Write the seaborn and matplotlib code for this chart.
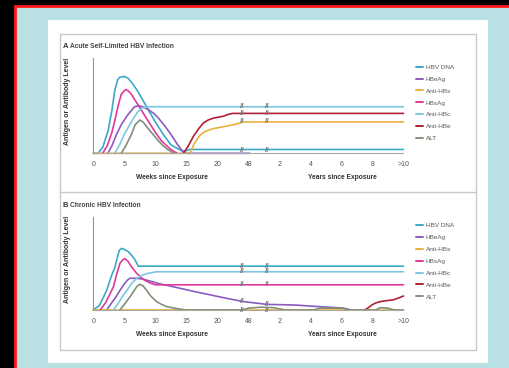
import matplotlib
matplotlib.use("Agg")
import matplotlib.pyplot as plt
from matplotlib.patches import Rectangle
from matplotlib.lines import Line2D
from matplotlib.ticker import MultipleLocator
import pandas as pd
import seaborn as sns

# x values are positions on the broken time axis: ticks are evenly spaced
# 0,5,10,15,20 weeks | 48 weeks | 2,4,6,8,>10 years
TICK_LABELS = ["0", "5", "10", "15", "20", "48", "2", "4", "6", "8", ">10"]
MARKERS = ["HBV DNA", "HBeAg", "Anti-HBs", "HBsAg", "Anti-HBc", "Anti-HBe", "ALT"]
COLORS = ["#3aaac9", "#8a5cc0", "#eab040", "#e0389c", "#7cc6e2", "#b02035", "#7f8f78"]

# panel A: acute self-limited infection, (axis position, relative level)
acute_hbv_dna = [(0, 0), (0.15, 0.0), (0.3, 0.06), (0.47, 0.23), (0.6, 0.45), (0.69, 0.66),
                 (0.78, 0.77), (0.85, 0.80), (1.0, 0.81), (1.12, 0.79), (1.25, 0.74),
                 (1.44, 0.65), (1.7, 0.50), (1.98, 0.34), (2.25, 0.20), (2.5, 0.09),
                 (2.77, 0.04), (2.93, 0.02), (3.1, 0.04), (10, 0.04)]
acute_hbeag = [(0.47, 0), (0.6, 0.08), (0.75, 0.2), (0.9, 0.3), (1.1, 0.4), (1.33, 0.49),
               (1.44, 0.5), (1.6, 0.49), (1.77, 0.46), (1.95, 0.42), (2.1, 0.37),
               (2.3, 0.29), (2.5, 0.2), (2.7, 0.1), (2.88, 0.02), (3.0, 0.0), (5.05, 0.0)]
acute_anti_hbs = [(0, 0), (3.12, 0), (3.25, 0.1), (3.44, 0.19), (3.6, 0.23), (3.87, 0.26),
                  (4.2, 0.28), (4.5, 0.3), (4.7, 0.315), (4.84, 0.33), (10, 0.33)]
acute_hbsag = [(0.3, 0), (0.45, 0.08), (0.6, 0.22), (0.69, 0.34), (0.8, 0.5), (0.9, 0.62),
               (1.0, 0.66), (1.06, 0.67), (1.15, 0.65), (1.23, 0.62), (1.5, 0.48),
               (1.77, 0.34), (2.0, 0.22), (2.2, 0.13), (2.5, 0.04), (2.7, 0.0)]
acute_anti_hbc = [(0.69, 0), (0.85, 0.09), (1.0, 0.2), (1.12, 0.27), (1.3, 0.37),
                  (1.44, 0.44), (1.6, 0.48), (1.77, 0.49), (10, 0.49)]
acute_anti_hbe = [(2.9, 0), (3.05, 0.07), (3.23, 0.18), (3.4, 0.26), (3.55, 0.32),
                  (3.7, 0.35), (3.87, 0.37), (4.19, 0.39), (4.35, 0.41), (4.5, 0.42), (10, 0.42)]
acute_alt = [(0.9, 0), (1.05, 0.08), (1.23, 0.2), (1.35, 0.3), (1.5, 0.35), (1.6, 0.33),
             (1.77, 0.26), (1.95, 0.19), (2.1, 0.13), (2.25, 0.08), (2.4, 0.04), (2.6, 0.0)]

# panel B: chronic infection
chronic_hbv_dna = [(0, 0), (0.2, 0.05), (0.43, 0.21), (0.6, 0.38), (0.7, 0.46), (0.78, 0.57),
                   (0.84, 0.64), (0.91, 0.66), (1.0, 0.65), (1.13, 0.625), (1.25, 0.58),
                   (1.34, 0.54), (1.45, 0.47), (10, 0.47)]
chronic_hbeag = [(0.43, 0), (0.6, 0.08), (0.75, 0.15), (0.86, 0.21), (1.0, 0.28), (1.1, 0.32),
                 (1.18, 0.34), (1.4, 0.34), (1.61, 0.33), (2.15, 0.28), (2.7, 0.24),
                 (3.23, 0.2), (3.8, 0.16), (4.3, 0.125), (4.84, 0.09), (5.6, 0.06),
                 (6.45, 0.054), (7.3, 0.036), (8.06, 0.02), (8.3, 0.0)]
chronic_anti_hbs = [(0, 0), (10, 0)]
chronic_hbsag = [(0.22, 0), (0.4, 0.08), (0.55, 0.18), (0.65, 0.25), (0.75, 0.38), (0.86, 0.5),
                 (0.95, 0.54), (1.02, 0.55), (1.12, 0.52), (1.24, 0.46), (1.38, 0.4),
                 (1.5, 0.36), (1.65, 0.32), (1.83, 0.29), (2.0, 0.27), (10, 0.27)]
chronic_anti_hbc = [(0.65, 0), (0.8, 0.07), (0.95, 0.15), (1.08, 0.21), (1.25, 0.29),
                    (1.4, 0.34), (1.55, 0.37), (1.72, 0.39), (2.04, 0.41), (10, 0.41)]
chronic_anti_hbe = [(8.75, 0), (8.85, 0.02), (8.98, 0.054), (9.1, 0.075), (9.25, 0.09),
                    (9.45, 0.1), (9.68, 0.11), (9.85, 0.13), (10, 0.15)]
chronic_alt = [(0.86, 0), (1.0, 0.06), (1.18, 0.14), (1.3, 0.2), (1.4, 0.25), (1.5, 0.275),
               (1.6, 0.26), (1.72, 0.21), (1.85, 0.15), (2.04, 0.09), (2.2, 0.06),
               (2.37, 0.036), (2.6, 0.02), (2.8, 0.01), (3.0, 0.0), (4.8, 0.0), (5.0, 0.02),
               (5.4, 0.03), (5.8, 0.025), (6.2, 0.0), (7.1, 0.0), (7.3, 0.02), (8.0, 0.02),
               (8.3, 0.0), (9.1, 0.0), (9.25, 0.025), (9.5, 0.02), (9.7, 0.0), (10, 0.0)]

ACUTE = [acute_hbv_dna, acute_hbeag, acute_anti_hbs, acute_hbsag,
         acute_anti_hbc, acute_anti_hbe, acute_alt]
CHRONIC = [chronic_hbv_dna, chronic_hbeag, chronic_anti_hbs, chronic_hbsag,
           chronic_anti_hbc, chronic_anti_hbe, chronic_alt]

# (axis position, level) of the "//" axis-break marks on the lines
ACUTE_BREAKS = [(4.8, 0.49), (4.8, 0.42), (4.8, 0.33), (4.8, 0.025),
                (5.6, 0.49), (5.6, 0.42), (5.6, 0.33), (5.6, 0.025)]
CHRONIC_BREAKS = [(4.8, 0.47), (4.8, 0.41), (4.8, 0.27), (4.8, 0.09), (4.8, 0.0),
                  (5.6, 0.47), (5.6, 0.41), (5.6, 0.27), (5.6, 0.06), (5.6, 0.0)]

W, H = 510, 368


def fx(x):
    return x / W


def fy(y):
    return 1 - y / H


def rect(fig, x0, y0, x1, y1, **kw):
    fig.add_artist(Rectangle((fx(x0), fy(y1)), (x1 - x0) / W, (y1 - y0) / H,
                             transform=fig.transFigure, zorder=-10, **kw))


def to_frame(series):
    rows = []
    for name, pts in zip(MARKERS, series):
        for u, v in pts:
            rows.append({"pos": u, "level": v, "marker": name})
    return pd.DataFrame(rows)


def draw_panel(fig, top, bottom, series, breaks, letter, title):
    ax = fig.add_axes([fx(93.3), fy(bottom), (403.5 - 93.3) / W, (bottom - top) / H])
    ax.set_facecolor("none")
    sns.lineplot(data=to_frame(series), x="pos", y="level", hue="marker",
                 hue_order=MARKERS, palette=COLORS, sort=False, estimator=None,
                 linewidth=1.2, ax=ax, legend=False)
    for ln in ax.lines:
        ln.set_clip_on(False)
    ax.set_xlim(0, 10)
    ax.set_ylim(0, 1)
    ax.set_xlabel("")
    ax.set_ylabel("")
    ax.set_yticks([])
    ax.set_xticks(range(11))
    ax.set_xticklabels(TICK_LABELS)
    ax.xaxis.set_minor_locator(MultipleLocator(0.2))
    ax.tick_params(axis="x", which="major", length=2.5, width=0.6, labelsize=5,
                   pad=3, colors="#9a9a90", labelcolor="#555555")
    ax.tick_params(axis="x", which="minor", length=1.5, width=0.5, colors="#9a9a90")
    for side in ["top", "right"]:
        ax.spines[side].set_visible(False)
    ax.spines["left"].set_color("#8c9a8c")
    ax.spines["bottom"].set_color("#a9a9a0")
    ax.spines["left"].set_linewidth(0.8)
    ax.spines["bottom"].set_linewidth(0.8)

    # axis-break marks
    for u, lv in breaks:
        ax.text(u, lv, "//", ha="center", va="center", fontsize=6,
                fontweight="bold", color="#7a7a7a", zorder=5, clip_on=False)

    handles = [Line2D([], [], color=c, lw=1.4) for c in COLORS]
    ax.legend(handles, MARKERS, loc="upper left", bbox_to_anchor=(fx(413), fy(top + 3)),
              bbox_transform=fig.transFigure, frameon=False, fontsize=4.6,
              handlelength=1.0, handletextpad=0.5, labelspacing=1.0, borderpad=0,
              labelcolor="#5a5a5a")

    fig.text(fx(63), fy(top - 11.5), letter, fontsize=5.5, fontweight="bold",
             va="center", color="#333333")
    fig.text(fx(70), fy(top - 11.5), title, fontsize=4.8, fontweight="bold",
             va="center", color="#444444")
    fig.text(fx(68), fy((top + bottom) / 2 - 4), "Antigen or Antibody Level", rotation=90,
             fontsize=5, fontweight="bold", ha="center", va="center", color="#333333")
    fig.text(fx(172), fy(bottom + 24), "Weeks since Exposure", fontsize=4.8,
             fontweight="bold", ha="center", va="center", color="#333333")
    fig.text(fx(342), fy(bottom + 24), "Years since Exposure", fontsize=4.8,
             fontweight="bold", ha="center", va="center", color="#333333")
    return ax


sns.set_style("white")
plt.rcParams["font.family"] = ["Liberation Sans", "DejaVu Sans"]

fig = plt.figure(figsize=(5.1, 3.68), dpi=100, facecolor="black")

# screenshot framing: red border, light blue slide, white figure card
rect(fig, 15, 6, 520, 380, facecolor="#b9e0e3", edgecolor="#ff1a1a", linewidth=2)
rect(fig, 48, 20, 488, 363, facecolor="white", edgecolor="none")
rect(fig, 60, 34, 476, 350, facecolor="none", edgecolor="#c8c8c8", linewidth=1)
fig.add_artist(Line2D([fx(60), fx(476)], [fy(192), fy(192)], color="#c8c8c8",
                      linewidth=1, transform=fig.transFigure, zorder=-5))

draw_panel(fig, 58.3, 153.3, ACUTE, ACUTE_BREAKS, "A", "Acute Self-Limited HBV Infection")
draw_panel(fig, 216.7, 310, CHRONIC, CHRONIC_BREAKS, "B", "Chronic HBV Infection")

fig.savefig("out.png", dpi=100, facecolor="black")
